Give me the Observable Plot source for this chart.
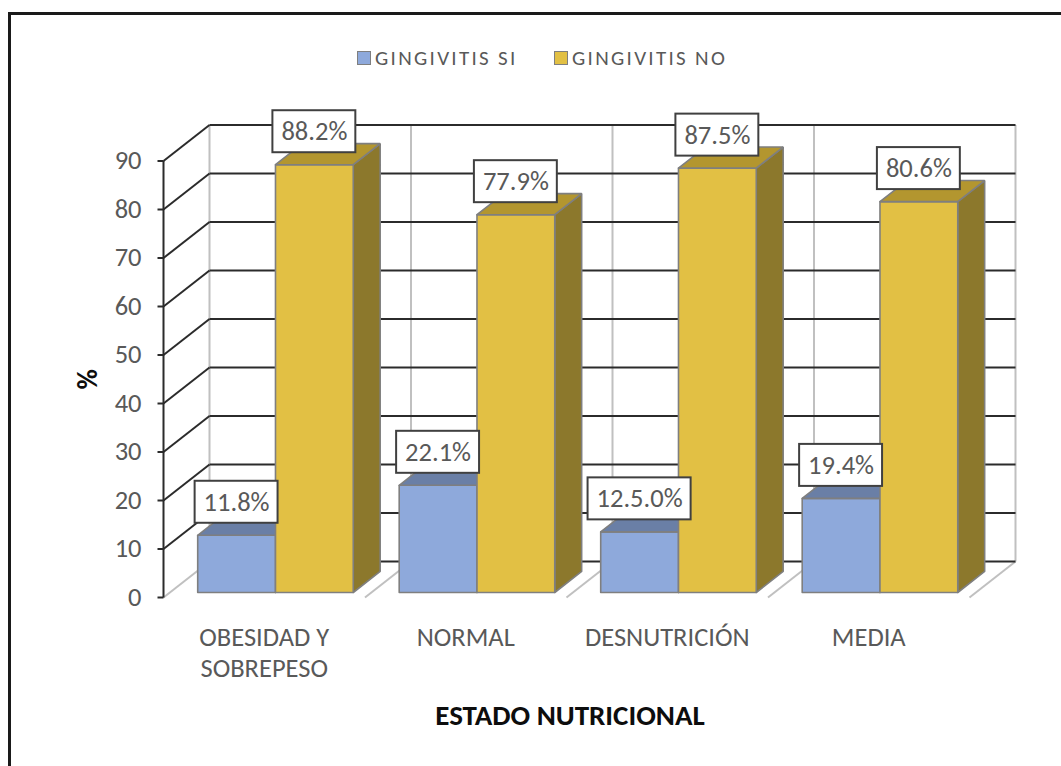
<!DOCTYPE html>
<html>
<head>
<meta charset="utf-8">
<script src="https://cdn.jsdelivr.net/npm/d3@7"></script>
<script src="https://cdn.jsdelivr.net/npm/@observablehq/plot@0.6"></script>
<style>
  html, body { margin: 0; padding: 0; background: #fff; overflow: hidden; }
  body { width: 1061px; height: 766px; position: relative; font-family: Carlito, Lato, "Open Sans", sans-serif; }
  #frame { position: absolute; left: 8px; top: 12px; width: 2000px; height: 2000px; border-left: 3px solid #1a1a1a; border-top: 3px solid #1a1a1a; box-sizing: border-box; }
  #legend { position: absolute; left: 0; top: 45px; width: 1061px; height: 26px; font-size: 21px; color: #595959; white-space: nowrap; letter-spacing: 2.3px; }
  .item { position: absolute; top: 0; display: flex; align-items: center; height: 26px; }
  .sw { width: 12px; height: 12px; border: 1.5px solid #7f7f7f; margin-right: 4px; box-sizing: content-box; }
  #chart { position: absolute; left: 0; top: 90px; }
  #xtitle { position: absolute; left: 0; width: 1140px; top: 697px; text-align: center; font-weight: bold; font-size: 29px; color: #0d0d0d; }
</style>
</head>
<body>
<div id="frame"></div>
<div id="legend"></div>
<div id="chart"></div>
<div id="xtitle"></div>
<script>
// ---- data ----
const categories = ["OBESIDAD Y\nSOBREPESO", "NORMAL", "DESNUTRICIÓN", "MEDIA"];
const series = ["GINGIVITIS SI", "GINGIVITIS NO"];
const gingivitisSi = [11.8, 22.1, 12.5, 19.4];
const gingivitisNo = [88.2, 77.9, 87.5, 80.6];
const labelsSi = ["11.8%", "22.1%", "12.5.0%", "19.4%"];
const labelsNo = ["88.2%", "77.9%", "87.5%", "80.6%"];
const yTicks = [0, 10, 20, 30, 40, 50, 60, 70, 80, 90];
const xTitle = "ESTADO NUTRICIONAL";
const yTitle = "%";

// ---- styles / geometry ----
const frontColors = ["#8EA9DB", "#E2C044"];
const topColors = ["#6A7FA6", "#B3962F"];
const sideColors = ["#5E7299", "#8C782C"];
const FS = 26.5;     // main font size
const PXU = 201.5;   // px per category
const PXV = 4.85;    // px per value unit
const DX = 46 / PXU; // depth vector in data units
const DY = 36 / PXV;
const P = (u, v, d) => ({x: u + d * DX, y: v + d * DY});
const D1 = 0.139, D2 = 0.724;          // bar depth range
const G0 = 0.138, BW = 0.386;          // group start & bar width (category units)
const charW = c => (/[0-9]/.test(c) ? 0.507 : c === "." ? 0.252 : c === "%" ? 0.715 : 0.55);
const textWidth = t => Array.from(t).reduce((s, c) => s + charW(c), 0) * FS;

// legend
const legend = document.getElementById("legend");
const legendLeft = [357, 554];
series.forEach((s, i) => {
  const it = document.createElement("div"); it.className = "item"; it.style.left = legendLeft[i] + "px";
  const sw = document.createElement("div"); sw.className = "sw"; sw.style.background = frontColors[i];
  const t = document.createElement("span"); t.textContent = s;
  it.append(sw, t); legend.append(it);
});
document.getElementById("xtitle").textContent = xTitle;

// ---- walls ----
const nCat = categories.length;
const vMax = yTicks[yTicks.length - 1];
const backGrid = yTicks.map(v => ({a: P(0, v, 1), b: P(nCat, v, 1)}));
const leftGrid = yTicks.filter(v => v > 0).map(v => ({a: P(0, v, 0), b: P(0, v, 1)}));
const backVert = d3.range(nCat + 1).map(i => ({a: P(i, 0, 1), b: P(i, vMax, 1)}));
const floorLines = d3.range(nCat + 1).map(i => ({a: P(i, 0, 0), b: P(i, 0, 1)}));
const tickMarks = yTicks.map(v => ({a: P(-6 / PXU, v, 0), b: P(0, v, 0), v}));
const axisLine = [{a: P(0, 0, 0), b: P(0, vMax, 0)}];

// ---- bars ----
const faces = [[], []].map(() => ({front: [], top: [], side: []}));
const values = [gingivitisSi, gingivitisNo];
const labels = [labelsSi, labelsNo];
const boxes = [];
values.forEach((vals, s) => {
  vals.forEach((v, i) => {
    const u1 = i + G0 + s * BW, u2 = u1 + BW;
    const id = s + "-" + i;
    const poly = (key, pts) => pts.concat([pts[0]]).forEach(p => faces[s][key].push({id, ...p}));
    poly("side", [P(u2, 0, D1), P(u2, 0, D2), P(u2, v, D2), P(u2, v, D1)]);
    poly("front", [P(u1, 0, D1), P(u2, 0, D1), P(u2, v, D1), P(u1, v, D1)]);
    poly("top", [P(u1, v, D1), P(u2, v, D1), P(u2, v, D2), P(u1, v, D2)]);
    const c = P((u1 + u2) / 2, v, D1);
    const text = labels[s][i];
    const hw = (textWidth(text) + 17) / 2 / PXU;
    const cy = c.y + 33 / PXV;
    boxes.push({text, x: c.x, y: cy, x1: c.x - hw, x2: c.x + hw, y1: cy - 21 / PXV, y2: cy + 21 / PXV});
  });
});

const catLabels = categories.map((c, i) => ({text: c, ...P(i + 0.5, 0, 0)}));

const linkMark = (data, stroke, w) => Plot.link(data, {x1: d => d.a.x, y1: d => d.a.y, x2: d => d.b.x, y2: d => d.b.y, stroke, strokeWidth: w});
const faceMark = (data, fill) => Plot.line(data, {x: "x", y: "y", z: "id", fill, stroke: "#7F7F7F", strokeWidth: 1.6, strokeLinejoin: "miter", curve: "linear"});

const FONT = "Carlito, Lato, 'Open Sans', sans-serif";
const chart = Plot.plot({
  width: 1061, height: 600, margin: 0,
  x: {type: "linear", domain: [0, nCat], range: [163, 163 + nCat * PXU]},
  y: {type: "linear", domain: [0, vMax], range: [507, 507 - vMax * PXV]},
  axis: null,
  style: {background: "transparent", overflow: "visible", fontFamily: FONT},
  marks: [
    linkMark(backVert, "#C0C0C0", 2),
    linkMark(floorLines, "#C0C0C0", 2),
    linkMark(backGrid, "#2B2B2B", 2),
    linkMark(leftGrid, "#2B2B2B", 2),
    linkMark(axisLine, "#2B2B2B", 2),
    linkMark(tickMarks, "#2B2B2B", 2),
    Plot.text(yTicks, {x: 0, y: d => d, text: d => String(d), dx: -22, textAnchor: "end", fontSize: FS, fill: "#595959", fontFamily: FONT}),
    Plot.text([yTitle], {x: -75 / PXU, y: vMax / 2, text: d => d, rotate: -90, fontSize: 28, fontWeight: "bold", fill: "#0d0d0d", fontFamily: FONT}),
    ...[0, 1].flatMap(s => [
      faceMark(faces[s].side, sideColors[s]),
      faceMark(faces[s].front, frontColors[s]),
      faceMark(faces[s].top, topColors[s])
    ]),
    Plot.rect(boxes, {x1: "x1", x2: "x2", y1: "y1", y2: "y2", fill: "white", stroke: "#404040", strokeWidth: 2}),
    Plot.text(boxes, {x: "x", y: "y", text: "text", fontSize: FS, fill: "#595959", fontFamily: FONT}),
    Plot.text(catLabels, {x: "x", y: "y", text: "text", dy: 26.5, lineAnchor: "top", lineHeight: 1.17, fontSize: FS, fill: "#595959", fontFamily: FONT})
  ]
});
document.getElementById("chart").append(chart);
</script>
</body>
</html>
